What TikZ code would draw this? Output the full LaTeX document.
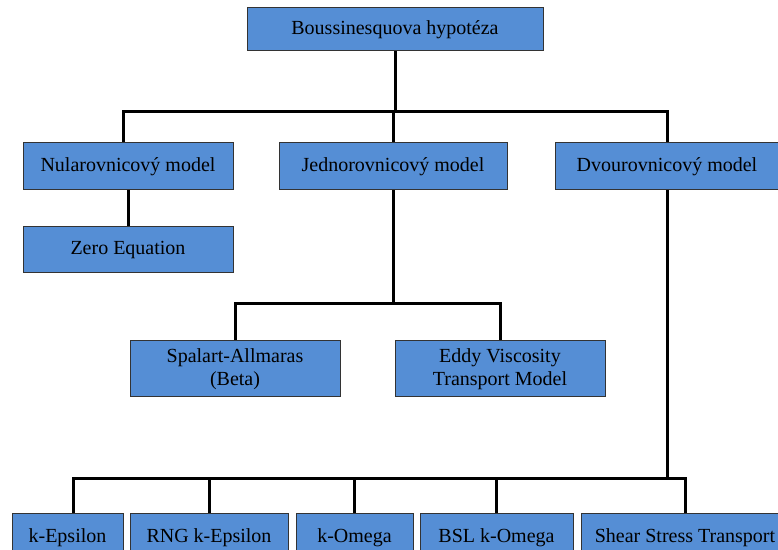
\documentclass[tikz,border=0pt]{standalone}
\usepackage{fontspec}
\setmainfont{Liberation Serif}
\definecolor{boxblue}{HTML}{558ED5}

\begin{document}
\begin{tikzpicture}[x=0.5pt, y=-0.5pt,
    box/.style={draw=black!80, line width=0.5pt, fill=boxblue, inner sep=0pt,
        align=center, minimum height=23.5pt, font=\fontsize{10}{11.5}\selectfont},
    link/.style={line width=1.5pt}]
    \clip (0,0) rectangle (778,550);

    % Top level
    \node[box, minimum width=148pt, minimum height=21.5pt] (bous) at (395,29.5) {Boussinesquova hypotéza};

    % Model groups
    \node[box, minimum width=105pt] (nul) at (128,166.5) {Nularovnicový model};
    \node[box, minimum width=114pt] (jedn) at (393,166.5) {Jednorovnicový model};
    \node[box, minimum width=112pt] (dvou) at (667,166.5) {Dvourovnicový model};

    % Zero and one equation models
    \node[box, minimum width=105pt, minimum height=23pt] (zero) at (128,250) {Zero Equation};
    \node[box, minimum width=105pt, minimum height=28pt] (spal) at (235,369) {Spalart-Allmaras\\(Beta)};
    \node[box, minimum width=105pt, minimum height=28pt] (eddy) at (500,369) {Eddy Viscosity\\Transport Model};

    % Two equation models
    \node[box, minimum width=55.5pt] (keps) at (67.5,537.5) {k-Epsilon};
    \node[box, minimum width=79pt] (rng) at (209,537.5) {RNG k-Epsilon};
    \node[box, minimum width=58.5pt] (komega) at (354.5,537.5) {k-Omega};
    \node[box, minimum width=76.5pt] (bsl) at (496.5,537.5) {BSL k-Omega};
    \node[box, minimum width=104pt] (sst) at (685,537.5) {Shear Stress Transport};

    % Connectors
    \coordinate (bus1) at (395,112);
    \coordinate (bus2) at (393,304);
    \coordinate (bus3) at (667,479);
    \draw[link] (bous.south) -- (bus1);
    \draw[link] (bus1) -| ([xshift=-2.5pt]nul.north);
    \draw[link] (bus1) -| (jedn.north);
    \draw[link] (bus1) -| (dvou.north);
    \draw[link] (nul.south) -- (zero.north);
    \draw[link] (jedn.south) -- (bus2);
    \draw[link] (bus2) -| (spal.north);
    \draw[link] (bus2) -| (eddy.north);
    \draw[link] (dvou.south) -- (bus3);
    \draw[link] (bus3) -| ([xshift=3pt]keps.north);
    \foreach \n in {rng, komega, bsl, sst} {
        \draw[link] (bus3) -| (\n.north);
    }
\end{tikzpicture}
\end{document}
